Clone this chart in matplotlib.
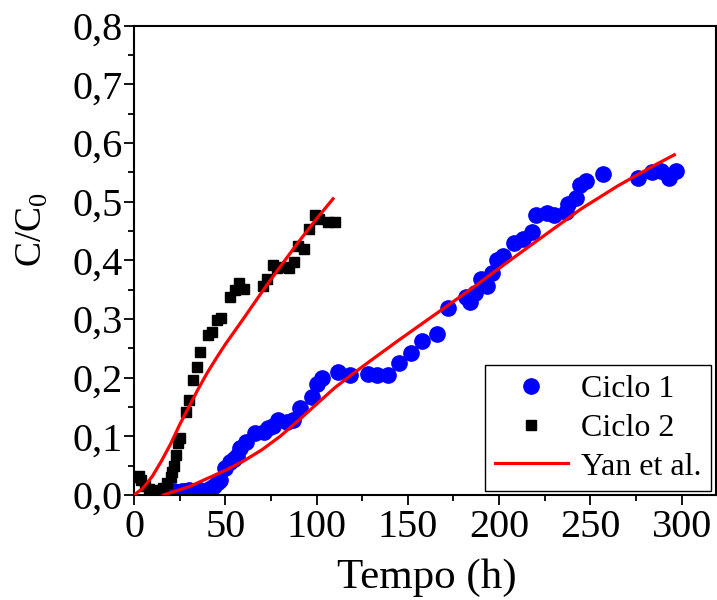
import numpy as np
import matplotlib
matplotlib.use('Agg')
import matplotlib.pyplot as plt
from matplotlib.ticker import MultipleLocator, FuncFormatter

plt.rcParams['font.family'] = ['Liberation Serif', 'DejaVu Serif']
plt.rcParams['mathtext.fontset'] = 'custom'
plt.rcParams['mathtext.rm'] = 'Liberation Serif'

# Ciclo 1 (blue circles)
t1 = [18, 20, 22, 24, 26, 28, 30, 32, 34, 36, 38, 40, 42, 44, 46, 47,
      50, 52.6, 54.5, 56.5, 58, 61.4, 66, 71, 73.5, 76, 79, 84, 87, 91,
      97.6, 100, 103, 112, 118.5, 128, 133, 139, 145, 151.5, 158, 166,
      172, 181.6, 184, 187, 190, 193.6, 196, 199, 202.4, 208, 213, 218,
      220, 226.5, 230, 236.5, 238, 242, 244.6, 247.4, 256.7, 276, 284,
      288.5, 293, 297]
c1 = [0.005, 0.004, 0.006, 0.005, 0.007, 0.006, 0.008, 0.007, 0.006, 0.008,
      0.007, 0.009, 0.012, 0.015, 0.022, 0.025,
      0.046, 0.056, 0.062, 0.066, 0.08, 0.09, 0.105, 0.107, 0.114, 0.118,
      0.128, 0.124, 0.128, 0.148,
      0.167, 0.19, 0.2, 0.209, 0.204, 0.207, 0.204, 0.204, 0.225, 0.242,
      0.262, 0.275,
      0.318, 0.337, 0.329, 0.344, 0.369, 0.357, 0.378, 0.4, 0.408, 0.43,
      0.437, 0.448,
      0.477, 0.48, 0.477, 0.482, 0.497, 0.506, 0.528, 0.536, 0.548, 0.54,
      0.55, 0.553, 0.541, 0.553]

# Ciclo 2 (black squares)
t2 = [1, 2.5, 4, 6, 8, 10, 12, 14, 16, 18, 20, 21, 22, 23, 24, 25, 28.5,
      30.2, 32.4, 34.5, 36.2, 40.6, 42.5, 45.5, 47.5, 52.7, 55.4, 57.5,
      60.5, 70.5, 73, 76, 78.5, 82, 85, 87.5, 90, 93, 96, 99, 101.5, 106, 110]
c2 = [0.03, 0.033, 0.025, 0.015, 0.01, 0.005, 0.008, 0.005, 0.012, 0.02,
      0.03, 0.04, 0.05, 0.068, 0.088, 0.097, 0.142,
      0.162, 0.196, 0.218, 0.243, 0.273, 0.278, 0.298, 0.302, 0.337, 0.349,
      0.361, 0.352, 0.357, 0.369, 0.392, 0.387, 0.389, 0.387, 0.397, 0.424,
      0.42, 0.454, 0.478, 0.47, 0.465, 0.465]

# Yan et al. model curves
yan2_t = [0, 5, 10, 15, 20, 25, 30, 35, 40, 45, 50, 55, 60, 70, 80, 90, 100, 109]
yan2_c = [0, 0.012, 0.032, 0.058, 0.087, 0.12, 0.15, 0.18, 0.208, 0.233,
          0.257, 0.279, 0.301, 0.346, 0.389, 0.431, 0.471, 0.505]
yan1_t = [16, 20, 30, 40, 50, 60, 70, 80, 90, 100, 110, 120, 130, 145, 165,
          185, 205, 225, 245, 265, 285, 296]
yan1_c = [0.0, 0.004, 0.014, 0.028, 0.042, 0.058, 0.077, 0.1, 0.127, 0.155,
          0.183, 0.207, 0.23, 0.264, 0.308, 0.352, 0.398, 0.443, 0.488, 0.527,
          0.562, 0.58]

fig = plt.figure(figsize=(7.17, 6), dpi=100)
ax = fig.add_axes([0.187, 0.175, 0.812, 0.782])

ax.plot(t1, c1, 'o', color='#0000ff', markersize=11, label='Ciclo 1', zorder=2)
ax.plot(t2, c2, 's', color='black', markersize=7, label='Ciclo 2', zorder=3)
ax.plot(yan1_t, yan1_c, '-', color='red', lw=2.3, label='Yan et al.', zorder=4)
ax.plot(yan2_t, yan2_c, '-', color='red', lw=2.3, zorder=4)

ax.set_xlim(0, 319)
ax.set_ylim(0, 0.8)
ax.xaxis.set_major_locator(MultipleLocator(50))
ax.xaxis.set_minor_locator(MultipleLocator(25))
ax.yaxis.set_major_locator(MultipleLocator(0.1))
ax.yaxis.set_minor_locator(MultipleLocator(0.05))
ax.yaxis.set_major_formatter(FuncFormatter(lambda v, p: f'{v:.1f}'.replace('.', ',')))

ax.tick_params(which='both', direction='out', width=1.3, labelsize=29)
ax.tick_params(which='major', length=7)
ax.tick_params(which='minor', length=4)
ax.tick_params(axis='y', pad=1)
ax.tick_params(axis='x', pad=3)
for s in ax.spines.values():
    s.set_linewidth(1.5)

ax.set_xlabel('Tempo (h)', fontsize=31)
ax.set_ylabel('C/C$_0$', fontsize=27)
ax.xaxis.set_label_coords(0.502, -0.135)
ax.yaxis.set_label_coords(-0.145, 0.565)

leg = ax.legend(loc='lower right', bbox_to_anchor=(0.991, 0.008), fontsize=23,
                fancybox=False, edgecolor='black', framealpha=1,
                borderpad=0.3, labelspacing=0.3, handlelength=2.3,
                handletextpad=0.4, borderaxespad=0)
leg.get_frame().set_linewidth(1.0)

fig.savefig('out.png', dpi=100)
